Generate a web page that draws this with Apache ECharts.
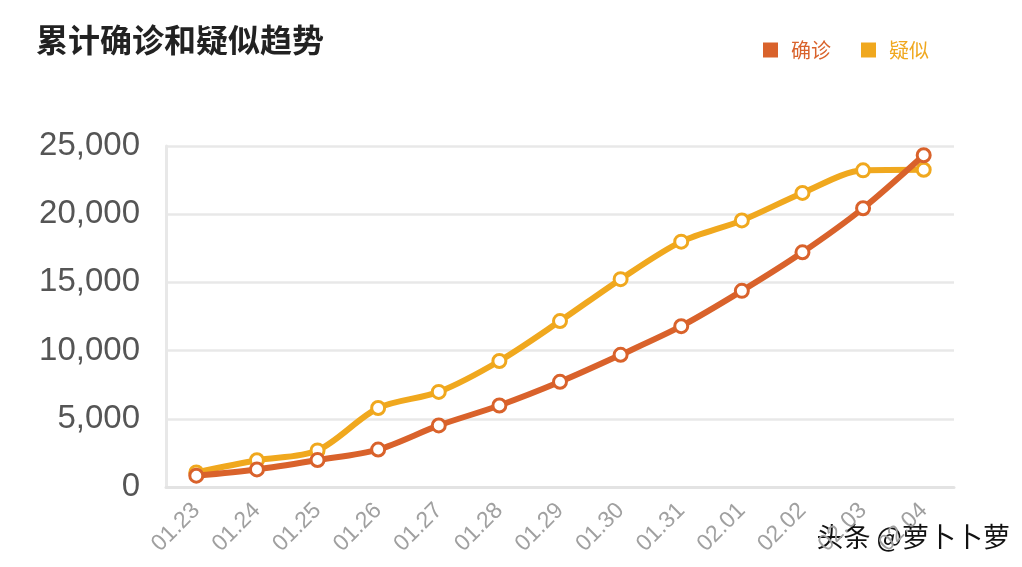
<!DOCTYPE html>
<html><head><meta charset="utf-8">
<script src="https://cdn.jsdelivr.net/npm/echarts@6/dist/echarts.min.js"></script>
<style>html,body{margin:0;padding:0;background:#fff}#c{width:1022px;height:567px}</style>
</head><body><div id="c"></div>
<script>
const categories = ['01.23','01.24','01.25','01.26','01.27','01.28','01.29','01.30','01.31','02.01','02.02','02.03','02.04'];
const confirmed = [830,1287,1975,2744,4515,5974,7711,9692,11791,14380,17205,20438,24324];
const suspected = [1072,1965,2684,5794,6973,9239,12167,15238,17988,19544,21558,23214,23260];
const font = '"Noto Sans CJK SC", "Noto Sans", sans-serif';
const numFont = '"Liberation Sans", Arial, sans-serif';
const chart = echarts.init(document.getElementById('c'));
chart.setOption({
  backgroundColor:'#fff',
  animation:false,
  title:{text:'累计确诊和疑似趋势',left:31,top:19,textStyle:{fontFamily:font,fontSize:32,fontWeight:'bold',color:'#222'}},
  legend:{right:88,top:35,itemWidth:15,itemHeight:15,itemGap:30,icon:'rect',
    textStyle:{fontFamily:font,fontSize:20,padding:[0,0,0,8]},
    data:[{name:'确诊',itemStyle:{color:'#D9622B',borderWidth:0},textStyle:{color:'#D9622B'}},
          {name:'疑似',itemStyle:{color:'#F0A81E',borderWidth:0},textStyle:{color:'#F0A81E'}}]},
  grid:{left:166,right:68,top:146,bottom:80},
  xAxis:{type:'category',data:categories,boundaryGap:true,
    axisLine:{lineStyle:{color:'#e3e3e3',width:3}},axisTick:{show:false},
    axisLabel:{rotate:45,color:'#a0a0a0',fontSize:23,fontFamily:numFont,margin:20,interval:0}},
  yAxis:{type:'value',min:0,max:25000,interval:5000,
    axisLine:{show:true,lineStyle:{color:'#e8e8e8',width:3}},axisTick:{show:false},
    splitLine:{lineStyle:{color:'#e8e8e8',width:2.5}},
    axisLabel:{color:'#555',fontSize:33,fontFamily:numFont,margin:26,
      formatter:v=>v.toLocaleString('en-US')}},
  series:[
    {name:'确诊',type:'line',smooth:0.3,data:confirmed,symbol:'circle',symbolSize:13,
      lineStyle:{color:'#D9622B',width:6},itemStyle:{color:'#fff',borderColor:'#D9622B',borderWidth:3},color:'#D9622B',z:3},
    {name:'疑似',type:'line',smooth:0.3,data:suspected,symbol:'circle',symbolSize:13,
      lineStyle:{color:'#F0A81E',width:6},itemStyle:{color:'#fff',borderColor:'#F0A81E',borderWidth:3},color:'#F0A81E',z:2}
  ],
  graphic:[{type:'text',left:815,top:522,style:{text:'头条 @萝卜卜萝',font:'27px "Noto Sans CJK SC"',fill:'#111',stroke:'#fff',lineWidth:3}}]
});
</script></body></html>
